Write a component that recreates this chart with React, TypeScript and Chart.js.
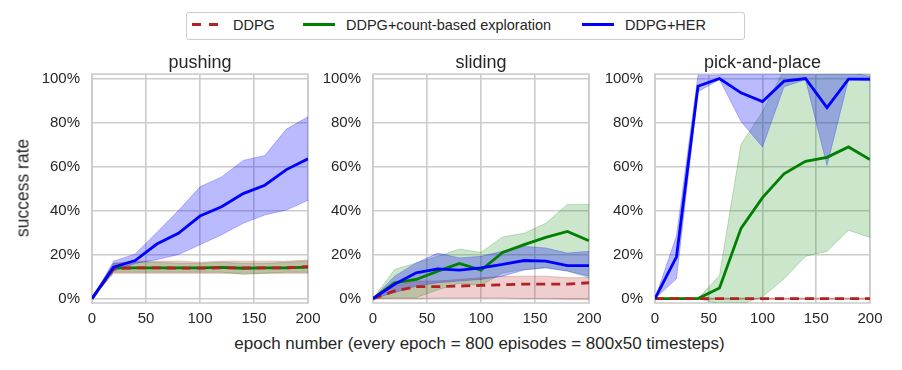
import React, { useEffect, useRef } from "react";
import { Chart, registerables } from "chart.js";

Chart.register(...registerables);

// ---------------- data ----------------
const epochs = [0, 20, 40, 60, 80, 100, 120, 140, 160, 180, 200];
const yTickValues = [0, 20, 40, 60, 80, 100];
const xTickStep = 50;

const panelTitles = ["pushing", "sliding", "pick-and-place"];
const seriesNames = ["DDPG", "DDPG+count-based exploration", "DDPG+HER"];

// pushing
const ddpgPush = [0, 13.5, 14, 14, 13.8, 13.8, 14, 14, 14, 14, 14.5];
const ddpgPushHi = [0, 16, 17, 17, 17, 16.5, 17, 17, 17, 17, 17.5];
const ddpgPushLo = [0, 11.5, 11.5, 11.5, 11.5, 11.5, 11.5, 11.5, 11.5, 11.5, 11.5];
const countPush = [0, 14, 14, 14, 14, 14, 14.2, 13.8, 14, 14, 14.3];
const countPushHi = [0, 16, 16.5, 16.5, 16, 16, 16.5, 16, 16, 16.5, 17];
const countPushLo = [0, 12, 12, 12, 12, 12, 12, 11, 11.5, 12, 12];
const herPush = [0, 14.3, 17.3, 24.8, 29.7, 37.5, 41.7, 47.7, 51.5, 58.6, 63.5];
const herPushHi = [0, 17, 20.3, 30, 40, 50.8, 55.3, 62.8, 65, 77, 82.6];
const herPushLo = [0, 12.5, 16, 17.7, 20, 24.5, 29, 34.2, 38, 40.2, 44.7];

// sliding
const ddpgSlide = [0, 3.5, 5.4, 5.4, 5.7, 6, 6.3, 6.6, 6.6, 6.6, 7.2];
const ddpgSlideHi = [0, 5.7, 8, 8, 8.7, 9.5, 10, 10.2, 10.2, 9.5, 9.5];
const ddpgSlideLo = [0, 0, 0, 0.3, 0.3, 0.3, 0.3, 0, 0, -0.3, -0.3];
const countSlide = [0, 7.2, 8.7, 12.5, 16, 12.9, 21, 24.5, 27.8, 30.5, 26.3];
const countSlideHi = [0, 13.2, 16.2, 19.2, 22.5, 21, 28, 29.7, 34.2, 42.8, 42.8];
const countSlideLo = [0, 0.5, 0.5, 4, 7, 6, 11.7, 13.2, 14, 12.5, 9.5];
const herSlide = [0, 6.5, 11.7, 13.5, 12.9, 14, 15.5, 17.3, 17, 15, 15];
const herSlideHi = [0, 10.2, 16.2, 20.7, 18.5, 19.2, 21.5, 23.7, 23, 20.7, 21.5];
const herSlideLo = [0, 2.7, 5.7, 7.2, 8, 8.7, 10.2, 13, 14, 12.5, 10.2];

// pick-and-place
const ddpgPick = [0, 0, 0, 0, 0, 0, 0, 0, 0, 0, 0];
const ddpgPickHi = [0, 0.3, 0.3, 0.3, 0.3, 0.3, 0.3, 0.3, 0.3, 0.3, 0.3];
const ddpgPickLo = [0, -0.3, -0.3, -0.3, -0.3, -0.3, -0.3, -0.3, -0.3, -0.3, -0.3];
const countPick = [0, 0, 0, 4.8, 31.9, 45.9, 56.7, 62.4, 64.2, 68.9, 63.2];
const countPickHi = [0, 0, 0, 10.5, 70, 85, 104, 106, 106, 106, 104];
const countPickLo = [0, 0, 0, -2.5, -2.5, 0.8, 9, 19.2, 21.5, 31.1, 27.8];
const herPick = [0, 19, 96.5, 100, 93.5, 89.5, 98.8, 100, 86.8, 99.7, 99.7];
const herPickHi = [0, 28.5, 101.5, 101.5, 105, 105, 104, 103, 104, 103, 101];
const herPickLo = [0, 9, 94, 99.5, 80.5, 68.9, 96.2, 99.5, 60.5, 99.5, 99];

// ---------------- styles ----------------
const FONT = "'Liberation Sans', Arial, Helvetica, sans-serif";
const TEXT = "#262626";
const GRID = "#cccccc";
const RED = "#b22222";
const GREEN = "#008000";
const BLUE = "#0000ff";
const RED_FILL = "rgba(178,34,34,0.22)";
const GREEN_FILL = "rgba(0,128,0,0.2)";
const BLUE_FILL = "rgba(0,0,255,0.27)";
const RED_EDGE = "rgba(178,34,34,0.3)";
const GREEN_EDGE = "rgba(0,128,0,0.3)";
const BLUE_EDGE = "rgba(0,0,255,0.3)";

type PanelData = {
  title: string;
  ddpg: number[]; ddpgHi: number[]; ddpgLo: number[];
  count: number[]; countHi: number[]; countLo: number[];
  her: number[]; herHi: number[]; herLo: number[];
  left: number; width: number;
};

const panels: PanelData[] = [
  { title: panelTitles[0], ddpg: ddpgPush, ddpgHi: ddpgPushHi, ddpgLo: ddpgPushLo, count: countPush, countHi: countPushHi, countLo: countPushLo, her: herPush, herHi: herPushHi, herLo: herPushLo, left: 92, width: 216 },
  { title: panelTitles[1], ddpg: ddpgSlide, ddpgHi: ddpgSlideHi, ddpgLo: ddpgSlideLo, count: countSlide, countHi: countSlideHi, countLo: countSlideLo, her: herSlide, herHi: herSlideHi, herLo: herSlideLo, left: 373, width: 216 },
  { title: panelTitles[2], ddpg: ddpgPick, ddpgHi: ddpgPickHi, ddpgLo: ddpgPickLo, count: countPick, countHi: countPickHi, countLo: countPickLo, her: herPick, herHi: herPickHi, herLo: herPickLo, left: 655, width: 215 },
];

const Y_AXIS_W = 60;
const X_AXIS_H = 30;
const PAD_R = 20;
const CANVAS_TOP = 40;
const CANVAS_H = 293;

const pts = (arr: number[]) => arr.map((y, i) => ({ x: epochs[i], y }));

function bandSets(hi: number[], lo: number[], fill: string, edge: string, order: number) {
  return [
    { data: pts(hi), borderColor: edge, borderWidth: 0.8, pointRadius: 0, fill: false, order, clip: 0, tension: 0 },
    { data: pts(lo), borderColor: edge, borderWidth: 0.8, pointRadius: 0, fill: "-1", backgroundColor: fill, order, clip: 0, tension: 0 },
  ];
}

const framePlugin = {
  id: "frame",
  beforeDatasetsDraw(chart: any) {
    const { ctx, chartArea } = chart;
    ctx.save();
    ctx.strokeStyle = GRID;
    ctx.lineWidth = 1.6;
    ctx.strokeRect(chartArea.left, chartArea.top, chartArea.right - chartArea.left, chartArea.bottom - chartArea.top);
    ctx.restore();
  },
};

function Panel({ p }: { p: PanelData }) {
  const ref = useRef<HTMLCanvasElement | null>(null);
  useEffect(() => {
    if (!ref.current) return;
    const datasets: any[] = [
      { label: seriesNames[2], data: pts(p.her), borderColor: BLUE, borderWidth: 2.8, pointRadius: 0, fill: false, order: 0, tension: 0 },
      { label: seriesNames[0], data: pts(p.ddpg), borderColor: RED, borderWidth: 2.8, borderDash: [9, 6], pointRadius: 0, fill: false, order: 1, tension: 0 },
      { label: seriesNames[1], data: pts(p.count), borderColor: GREEN, borderWidth: 2.8, pointRadius: 0, fill: false, order: 2, tension: 0 },
      ...bandSets(p.herHi, p.herLo, BLUE_FILL, BLUE_EDGE, 3),
      ...bandSets(p.countHi, p.countLo, GREEN_FILL, GREEN_EDGE, 4),
      ...bandSets(p.ddpgHi, p.ddpgLo, RED_FILL, RED_EDGE, 5),
    ];
    const chart = new Chart(ref.current, {
      type: "line",
      data: { datasets },
      options: {
        animation: false,
        responsive: false,
        maintainAspectRatio: false,
        events: [],
        layout: { padding: { top: 11, right: PAD_R, left: 0, bottom: 0 } },
        plugins: {
          legend: { display: false },
          tooltip: { enabled: false },
          title: {
            display: true,
            text: p.title,
            fullSize: false,
            color: TEXT,
            font: { family: FONT, size: 18, weight: "normal" },
            padding: { top: 1.5, bottom: 0 },
          },
        },
        scales: {
          x: {
            type: "linear",
            min: 0,
            max: 200,
            ticks: { stepSize: xTickStep, color: TEXT, font: { family: FONT, size: 15 }, padding: 7, maxRotation: 0 },
            grid: { color: GRID, lineWidth: 1.6, drawTicks: false },
            border: { display: false },
            afterFit: (s: any) => { s.height = X_AXIS_H; },
          },
          y: {
            type: "linear",
            min: -2,
            max: 102,
            afterBuildTicks: (s: any) => { s.ticks = yTickValues.map((v) => ({ value: v })); },
            ticks: { color: TEXT, font: { family: FONT, size: 15 }, padding: 12, callback: (v: any) => v + "%" },
            grid: { color: GRID, lineWidth: 1.6, drawTicks: false },
            border: { display: false },
            afterFit: (s: any) => { s.width = Y_AXIS_W; },
          },
        },
      } as any,
      plugins: [framePlugin],
    });
    return () => chart.destroy();
  }, [p]);
  const w = Y_AXIS_W + p.width + PAD_R;
  return (
    <canvas
      ref={ref}
      width={w}
      height={CANVAS_H}
      style={{ position: "absolute", left: p.left - Y_AXIS_W, top: CANVAS_TOP, width: w, height: CANVAS_H }}
    />
  );
}

function LegendLine({ left, width, color }: { left: number; width: number; color: string }) {
  return <div style={{ position: "absolute", left, top: 23, width, height: 3, background: color }} />;
}

function LegendText({ left, text }: { left: number; text: string }) {
  return (
    <div style={{ position: "absolute", left, top: 15, height: 20, lineHeight: "20px", fontSize: 14.5, color: TEXT, whiteSpace: "nowrap" }}>
      {text}
    </div>
  );
}

export default function App() {
  return (
    <div style={{ position: "fixed", left: 0, top: 0, width: 902, height: 370, background: "#fff", fontFamily: FONT, overflow: "hidden" }}>
      {panels.map((p) => (
        <Panel key={p.title} p={p} />
      ))}
      {/* figure legend */}
      <div style={{ position: "absolute", left: 186, top: 12, width: 557, height: 26, border: `1px solid ${GRID}`, borderRadius: 3, background: "#fff" }} />
      <LegendLine left={192} width={9} color={RED} />
      <LegendLine left={209} width={9} color={RED} />
      <LegendText left={233} text={seriesNames[0]} />
      <LegendLine left={303} width={32} color={GREEN} />
      <LegendText left={346} text={seriesNames[1]} />
      <LegendLine left={582} width={32} color={BLUE} />
      <LegendText left={625} text={seriesNames[2]} />
      {/* y label */}
      <div style={{ position: "absolute", left: 23, top: 188, transform: "translate(-50%, -50%) rotate(-90deg)", fontSize: 17.5, color: TEXT, whiteSpace: "nowrap" }}>
        success rate
      </div>
      {/* x label */}
      <div style={{ position: "absolute", left: 479.5, top: 334, height: 20, lineHeight: "20px", transform: "translateX(-50%)", fontSize: 17, color: TEXT, whiteSpace: "nowrap" }}>
        epoch number (every epoch = 800 episodes = 800x50 timesteps)
      </div>
    </div>
  );
}
